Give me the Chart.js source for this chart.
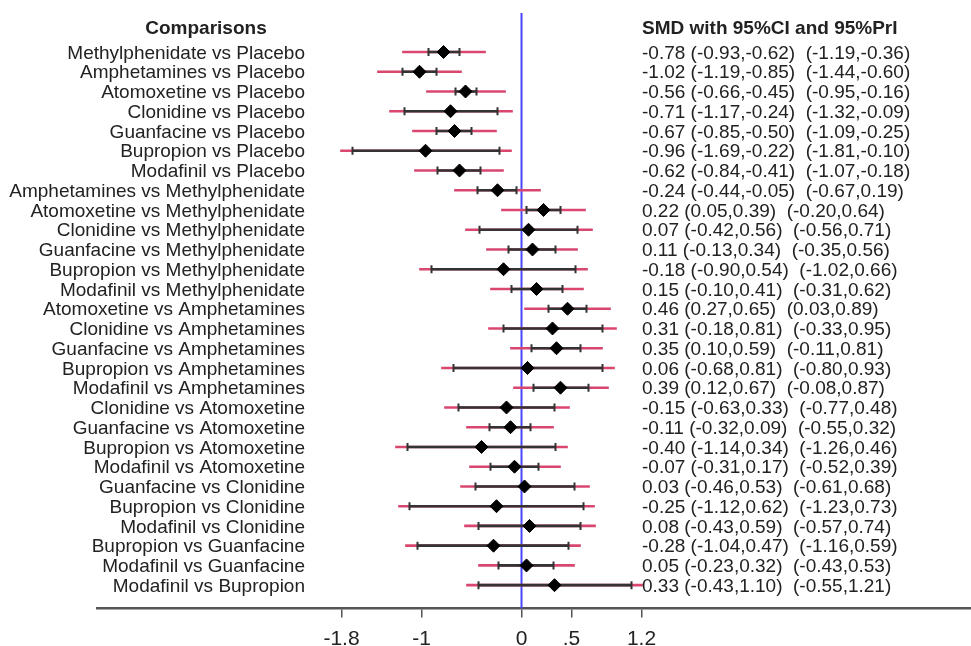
<!DOCTYPE html>
<html>
<head>
<meta charset="utf-8">
<script src="https://cdn.jsdelivr.net/npm/chart.js@4"></script>
<style>
  html, body { margin: 0; padding: 0; background: #fff; overflow: hidden; }
  canvas { display: block; }
</style>
</head>
<body>
<canvas id="forest" width="971" height="646"></canvas>
<script>
var comparisons = [
  'Methylphenidate vs Placebo', 'Amphetamines vs Placebo', 'Atomoxetine vs Placebo',
  'Clonidine vs Placebo', 'Guanfacine vs Placebo', 'Bupropion vs Placebo',
  'Modafinil vs Placebo', 'Amphetamines vs Methylphenidate', 'Atomoxetine vs Methylphenidate',
  'Clonidine vs Methylphenidate', 'Guanfacine vs Methylphenidate', 'Bupropion vs Methylphenidate',
  'Modafinil vs Methylphenidate', 'Atomoxetine vs Amphetamines', 'Clonidine vs Amphetamines',
  'Guanfacine vs Amphetamines', 'Bupropion vs Amphetamines', 'Modafinil vs Amphetamines',
  'Clonidine vs Atomoxetine', 'Guanfacine vs Atomoxetine', 'Bupropion vs Atomoxetine',
  'Modafinil vs Atomoxetine', 'Guanfacine vs Clonidine', 'Bupropion vs Clonidine',
  'Modafinil vs Clonidine', 'Bupropion vs Guanfacine', 'Modafinil vs Guanfacine',
  'Modafinil vs Bupropion'
]
var smd   = [-0.78, -1.02, -0.56, -0.71, -0.67, -0.96, -0.62, -0.24, 0.22, 0.07, 0.11, -0.18, 0.15, 0.46,
             0.31, 0.35, 0.06, 0.39, -0.15, -0.11, -0.40, -0.07, 0.03, -0.25, 0.08, -0.28, 0.05, 0.33]
var ciLow = [-0.93, -1.19, -0.66, -1.17, -0.85, -1.69, -0.84, -0.44, 0.05, -0.42, -0.13, -0.90, -0.10, 0.27,
             -0.18, 0.10, -0.68, 0.12, -0.63, -0.32, -1.14, -0.31, -0.46, -1.12, -0.43, -1.04, -0.23, -0.43]
var ciHigh = [-0.62, -0.85, -0.45, -0.24, -0.50, -0.22, -0.41, -0.05, 0.39, 0.56, 0.34, 0.54, 0.41, 0.65,
              0.81, 0.59, 0.81, 0.67, 0.33, 0.09, 0.34, 0.17, 0.53, 0.62, 0.59, 0.47, 0.32, 1.10]
var priLow = [-1.19, -1.44, -0.95, -1.32, -1.09, -1.81, -1.07, -0.67, -0.20, -0.56, -0.35, -1.02, -0.31, 0.03,
              -0.33, -0.11, -0.80, -0.08, -0.77, -0.55, -1.26, -0.52, -0.61, -1.23, -0.57, -1.16, -0.43, -0.55]
var priHigh = [-0.36, -0.60, -0.16, -0.09, -0.25, -0.10, -0.18, 0.19, 0.64, 0.71, 0.56, 0.66, 0.62, 0.89,
               0.95, 0.81, 0.93, 0.87, 0.48, 0.32, 0.46, 0.39, 0.68, 0.73, 0.74, 0.59, 0.53, 1.21]
var tickValues = [-1.8, -1, 0, 0.5, 1.2]
var tickLabels = ['-1.8', '-1', '0', '.5', '1.2']

var textColor = '#222'
var font = '19px "Liberation Sans", Arial, sans-serif'
var boldFont = 'bold 19px "Liberation Sans", Arial, sans-serif'

function fmt(v) {
  return v.toFixed(2)
}

var rows = comparisons.map(function(name, i) { return i })

// comparison names on the left, estimates with intervals on the right
var textColumns = {
  id: 'textColumns',
  afterDraw: function(chart) {
    var ctx = chart.ctx
    var y = chart.scales.y
    ctx.save()
    ctx.fillStyle = textColor
    ctx.textBaseline = 'middle'
    ctx.font = boldFont
    ctx.textAlign = 'center'
    ctx.fillText('Comparisons', 206, y.getPixelForValue(-1.16))
    ctx.textAlign = 'left'
    ctx.fillText('SMD with 95%CI and 95%PrI', 642, y.getPixelForValue(-1.16))
    ctx.font = font
    for (var i = 0; i < comparisons.length; i++) {
      var py = y.getPixelForValue(i) + 1.5
      ctx.textAlign = 'right'
      ctx.fillText(comparisons[i], 305, py)
      ctx.textAlign = 'left'
      var s = fmt(smd[i]) + ' (' + fmt(ciLow[i]) + ',' + fmt(ciHigh[i]) + ')  (' +
              fmt(priLow[i]) + ',' + fmt(priHigh[i]) + ')'
      ctx.fillText(s, 642, py)
    }
    ctx.restore()
  }
}

var ctx = document.getElementById('forest').getContext('2d')

var chart = new Chart(ctx, {
  type: 'scatter',
  data: {
    datasets: [
      {
        data: rows.map(function(i) { return { x: smd[i], y: i } }),
        pointStyle: 'rectRot',
        pointRadius: 6.5,
        backgroundColor: '#000',
        borderColor: '#000',
        borderWidth: 1,
        order: 0
      },
      {
        data: rows.map(function(i) { return { x: ciLow[i], y: i } })
          .concat(rows.map(function(i) { return { x: ciHigh[i], y: i } })),
        pointStyle: 'line',
        rotation: 90,
        pointRadius: 4,
        borderColor: '#333',
        borderWidth: 2,
        order: 1
      },
      {
        type: 'bar',
        indexAxis: 'y',
        data: rows.map(function(i) { return { x: [ciLow[i], ciHigh[i]], y: i } }),
        backgroundColor: '#333',
        barThickness: 2,
        grouped: false,
        order: 2
      },
      {
        type: 'bar',
        indexAxis: 'y',
        data: rows.map(function(i) { return { x: [priLow[i], priHigh[i]], y: i } }),
        backgroundColor: '#d9476f',
        barThickness: 2,
        grouped: false,
        order: 3
      },
      {
        type: 'line',
        data: [{ x: 0, y: -1.975 }, { x: 0, y: 28.18 }],
        borderColor: '#4747ff',
        borderWidth: 2,
        pointRadius: 0,
        order: 4
      }
    ]
  },
  options: {
    responsive: false,
    animation: false,
    devicePixelRatio: 1,
    layout: {
      autoPadding: false,
      padding: { left: 97, right: 0, top: 13, bottom: 0 }
    },
    scales: {
      x: {
        type: 'linear',
        offset: false,
        min: -4.245,
        max: 4.495,
        afterBuildTicks: function(scale) {
          scale.ticks = tickValues.map(function(v) { return { value: v } })
        },
        afterFit: function(scale) {
          scale.height = 37.5
        },
        ticks: {
          autoSkip: false,
          maxRotation: 0,
          padding: 11,
          color: textColor,
          font: { family: '"Liberation Sans", Arial, sans-serif', size: 21, lineHeight: 1 },
          callback: function(value) {
            return tickLabels[tickValues.indexOf(value)]
          }
        },
        grid: {
          offset: false,
          drawOnChartArea: false,
          drawTicks: true,
          tickLength: 9,
          color: '#555',
          lineWidth: 1.5
        },
        border: {
          display: true,
          color: '#555',
          width: 2.5
        }
      },
      y: {
        type: 'linear',
        offset: false,
        display: false,
        reverse: true,
        min: -1.975,
        max: 28.18,
        grid: { offset: false }
      }
    },
    plugins: {
      legend: { display: false },
      tooltip: { enabled: false }
    }
  },
  plugins: [textColumns]
})
</script>
</body>
</html>
